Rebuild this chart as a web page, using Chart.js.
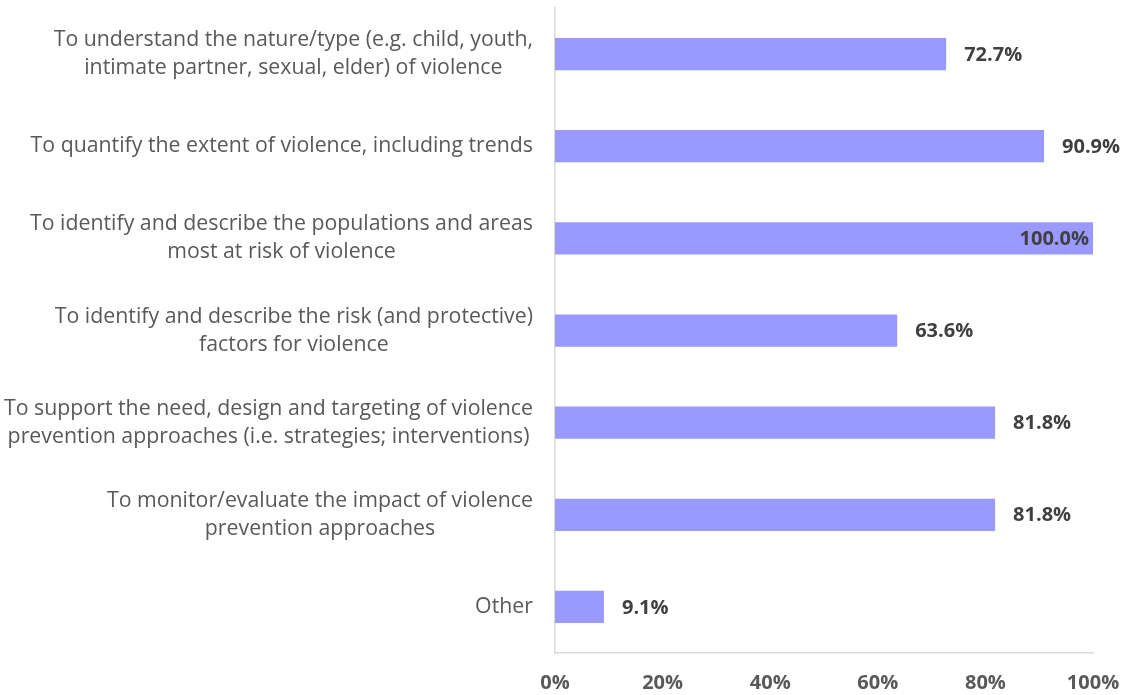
<!DOCTYPE html>
<html>
<head>
<meta charset="utf-8">
<script src="https://cdn.jsdelivr.net/npm/chart.js@4.4.1/dist/chart.umd.min.js"></script>
<style>
  html, body { margin: 0; padding: 0; background: #fff; }
  #wrap { width: 1126px; height: 695px; position: relative; }
</style>
</head>
<body>
<div id="wrap"><canvas id="chart"></canvas></div>
<script>
var categories = [
    ["To understand the nature/type (e.g. child, youth,", "intimate partner, sexual, elder) of violence"],
    ["To quantify the extent of violence, including trends"],
    ["To identify and describe the populations and areas", "most at risk of violence"],
    ["To identify and describe the risk (and protective)", "factors for violence"],
    ["To support the need, design and targeting of violence", "prevention approaches (i.e. strategies; interventions)"],
    ["To monitor/evaluate the impact of violence", "prevention approaches"],
    ["Other"]
];
var values = [72.7, 90.9, 100.0, 63.6, 81.8, 81.8, 9.1];
var tickValues = [0, 20, 40, 60, 80, 100];

var fontFamily = "'Open Sans', sans-serif";
var barColor = "#9999FF";
var axisColor = "#D9D9D9";
var labelColor = "#595959";

// category labels: each block right aligned, lines centered inside the block
var categoryLabels = {
    id: "categoryLabels",
    afterDraw: function (chart) {
        var ctx = chart.ctx;
        var scale = chart.scales.y;
        var right = chart.chartArea.left - 22;
        var lineHeight = 28;
        ctx.save();
        ctx.font = "21.3px " + fontFamily;
        ctx.fillStyle = labelColor;
        ctx.textAlign = "center";
        ctx.textBaseline = "middle";
        categories.forEach(function (lines, i) {
            var w = 0;
            lines.forEach(function (l) { w = Math.max(w, ctx.measureText(l).width); });
            var cx = right - w / 2;
            var cy = scale.getPixelForTick(i);
            var top = cy - (lines.length - 1) * lineHeight / 2;
            lines.forEach(function (l, j) {
                ctx.fillText(l, cx, top + j * lineHeight);
            });
        });
        ctx.restore();
    }
};

// value labels after the bar end, or inside when it would not fit
var valueLabels = {
    id: "valueLabels",
    afterDatasetsDraw: function (chart) {
        var ctx = chart.ctx;
        var meta = chart.getDatasetMeta(0);
        ctx.save();
        ctx.font = "bold 20px " + fontFamily;
        ctx.fillStyle = "#404040";
        ctx.textBaseline = "middle";
        meta.data.forEach(function (bar, i) {
            var text = values[i].toFixed(1) + "%";
            var w = ctx.measureText(text).width;
            if (bar.x + 18 + w > chart.width - 5) {
                ctx.textAlign = "right";
                ctx.fillText(text, bar.x - 4, bar.y + 1);
            } else {
                ctx.textAlign = "left";
                ctx.fillText(text, bar.x + 18, bar.y + 1);
            }
        });
        ctx.restore();
    }
};

var ctx = document.getElementById("chart").getContext("2d");
new Chart(ctx, {
    type: "bar",
    data: {
        labels: categories,
        datasets: [{
            data: values,
            backgroundColor: barColor,
            borderWidth: 0,
            barPercentage: 0.35,
            categoryPercentage: 1.0
        }]
    },
    options: {
        indexAxis: "y",
        responsive: true,
        maintainAspectRatio: false,
        animation: false,
        layout: { padding: { left: 0, right: 33, top: 8, bottom: 0 } },
        plugins: {
            legend: { display: false },
            tooltip: { enabled: false },
            title: { display: false }
        },
        scales: {
            x: {
                min: 0,
                max: 100,
                afterBuildTicks: function (scale) {
                    scale.ticks = tickValues.map(function (v) { return { value: v }; });
                },
                grid: { display: false, drawTicks: false },
                border: { display: true, color: axisColor, width: 1.5 },
                ticks: {
                    padding: 18,
                    color: labelColor,
                    maxRotation: 0,
                    font: { family: fontFamily, size: 20, weight: "bold" },
                    callback: function (v) { return v + "%"; }
                },
                afterFit: function (scale) {
                    scale.height = 42;
                    scale.paddingLeft = 0;
                    scale.paddingRight = 0;
                }
            },
            y: {
                grid: { display: false, drawTicks: false },
                border: { display: true, color: axisColor, width: 1.5 },
                ticks: { display: false },
                afterFit: function (scale) { scale.width = 555; }
            }
        }
    },
    plugins: [categoryLabels, valueLabels]
});
</script>
</body>
</html>
